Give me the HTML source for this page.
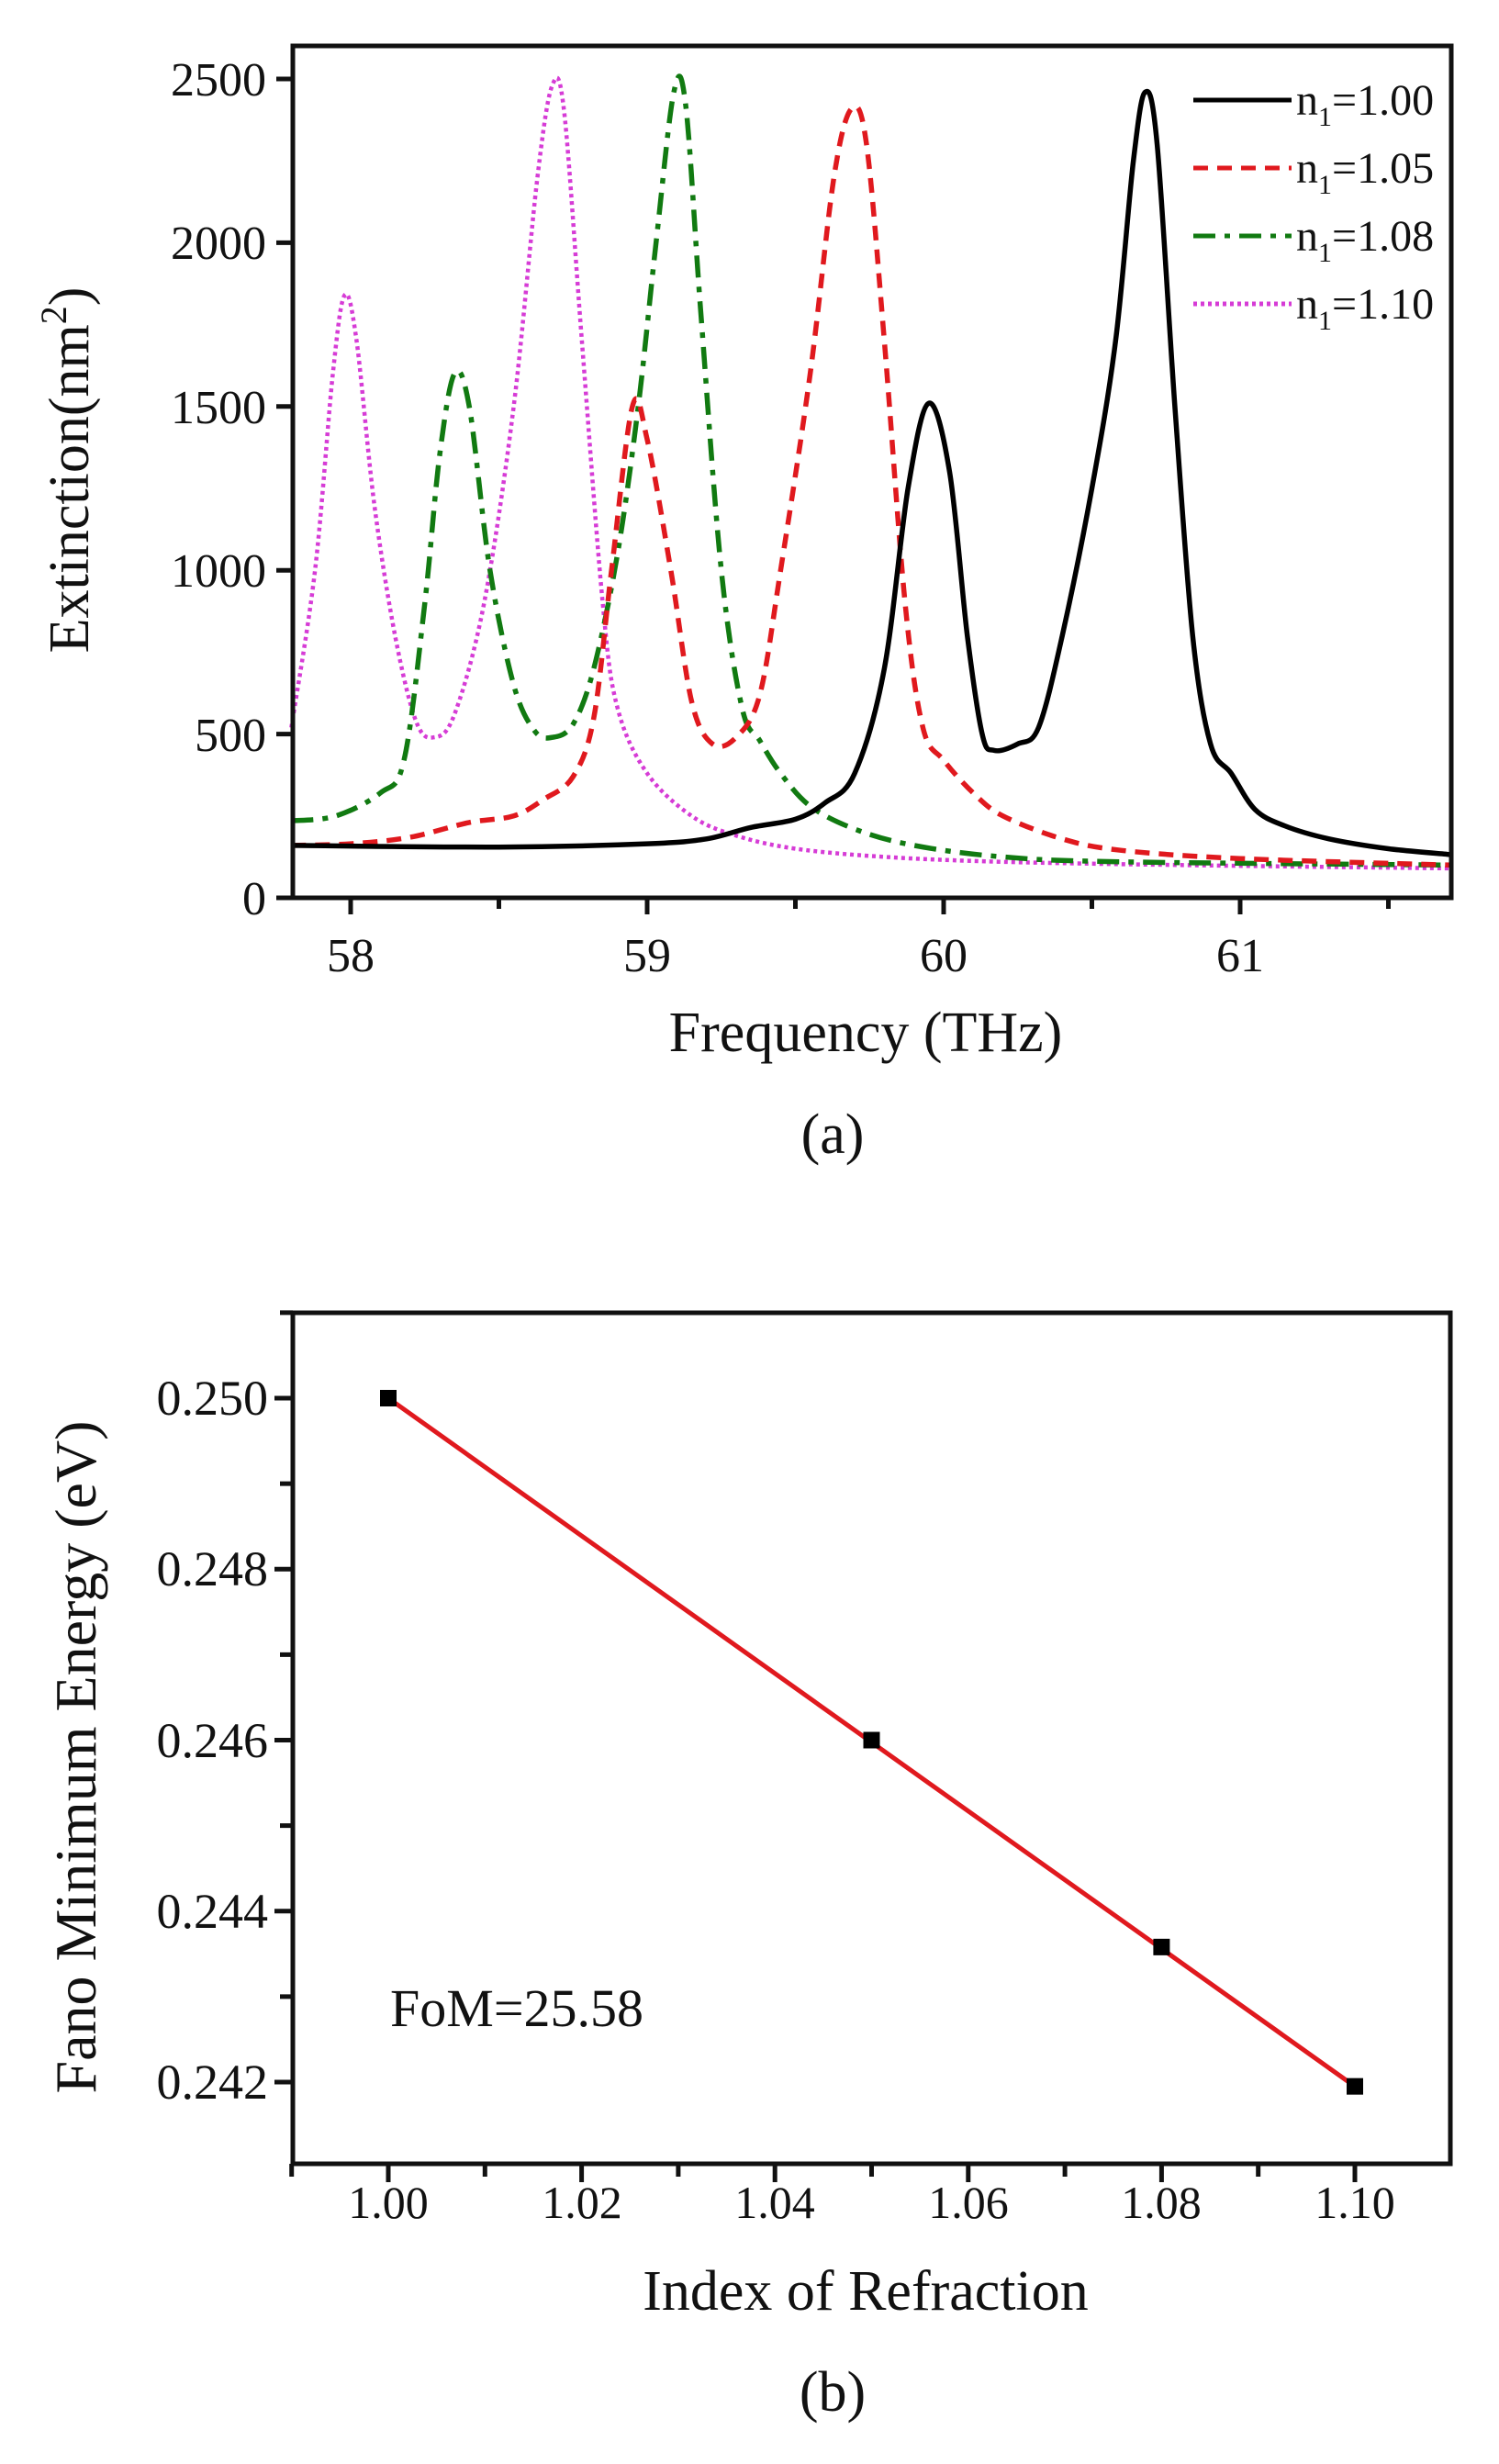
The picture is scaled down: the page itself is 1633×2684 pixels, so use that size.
<!DOCTYPE html>
<html><head><meta charset="utf-8"><style>
html,body{margin:0;padding:0;background:#fff;}
svg{display:block;}
text{font-family:"Liberation Serif",serif;fill:#111;}
</style></head><body>
<svg id="s" width="1633" height="2684" viewBox="0 0 1633 2684" xmlns="http://www.w3.org/2000/svg">
<rect width="1633" height="2684" fill="#fff"/>
<g id="a"></g>
<rect x="319" y="50" width="1262" height="928" fill="none" stroke="#111" stroke-width="5"/>
<g font-size="52" text-anchor="end">
<text x="290" y="996">0</text>
<text x="290" y="818">500</text>
<text x="290" y="639">1000</text>
<text x="290" y="461">1500</text>
<text x="290" y="282">2000</text>
<text x="290" y="104">2500</text>
</g>
<g font-size="52" text-anchor="middle">
<text x="382" y="1058">58</text>
<text x="705" y="1058">59</text>
<text x="1028" y="1058">60</text>
<text x="1351" y="1058">61</text>
</g>
<text x="943" y="1145" font-size="62" text-anchor="middle">Frequency (THz)</text>
<text x="907" y="1256" font-size="62" text-anchor="middle">(a)</text>
<text transform="translate(96,512) rotate(-90)" font-size="62" text-anchor="middle">Extinction(nm<tspan dy="-24" font-size="40">2</tspan><tspan dy="24">)</tspan></text>
<g stroke-width="5" fill="none">
<line x1="1300" y1="109" x2="1407" y2="109" stroke="#000"/>
<line x1="1300" y1="183" x2="1407" y2="183" stroke="#e0191e" stroke-dasharray="16,10"/>
<line x1="1300" y1="257" x2="1407" y2="257" stroke="#117a11" stroke-dasharray="24,10,6,10"/>
<line x1="1300" y1="331" x2="1407" y2="331" stroke="#d63cd6" stroke-dasharray="4,4"/>
</g>
<g font-size="48">
<text x="1412" y="125">n<tspan dy="12" font-size="30">1</tspan><tspan dy="-12">=1.00</tspan></text>
<text x="1412" y="199">n<tspan dy="12" font-size="30">1</tspan><tspan dy="-12">=1.05</tspan></text>
<text x="1412" y="273">n<tspan dy="12" font-size="30">1</tspan><tspan dy="-12">=1.08</tspan></text>
<text x="1412" y="347">n<tspan dy="12" font-size="30">1</tspan><tspan dy="-12">=1.10</tspan></text>
</g>
<g id="b"></g>
<rect x="319" y="1430" width="1261" height="927" fill="none" stroke="#111" stroke-width="5"/>
<g font-size="54" text-anchor="end">
<text x="292" y="1541">0.250</text>
<text x="292" y="1727">0.248</text>
<text x="292" y="1914">0.246</text>
<text x="292" y="2100">0.244</text>
<text x="292" y="2286">0.242</text>
</g>
<g font-size="50" text-anchor="middle">
<text x="423" y="2416">1.00</text>
<text x="634" y="2416">1.02</text>
<text x="844" y="2416">1.04</text>
<text x="1055" y="2416">1.06</text>
<text x="1265" y="2416">1.08</text>
<text x="1476" y="2416">1.10</text>
</g>
<text x="943" y="2516" font-size="62" text-anchor="middle">Index of Refraction</text>
<text x="907" y="2626" font-size="62" text-anchor="middle">(b)</text>
<text transform="translate(104,1914) rotate(-90)" font-size="64" text-anchor="middle">Fano Minimum Energy (eV)</text>
<text x="425" y="2207" font-size="58">FoM=25.58</text>
</svg>
<script>
var NS="http://www.w3.org/2000/svg";
function el(p,t,a){var e=document.createElementNS(NS,t);for(var k in a)e.setAttribute(k,a[k]);p.appendChild(e);return e;}
var ga=document.getElementById('a'),gb=document.getElementById('b');
function X(f){return 382+(f-58)*323;}
function Y(v){return 978-v*0.3568;}
for(var f=58;f<=61.5;f+=0.5){el(ga,'line',{x1:X(f),x2:X(f),y1:978,y2:f%1==0?996:990,stroke:'#111','stroke-width':5});}
for(var v=0;v<=2500;v+=500){el(ga,'line',{x1:319,x2:301,y1:Y(v),y2:Y(v),stroke:'#111','stroke-width':5});}
function path(pts){
 var s='M'+X(pts[0][0]).toFixed(1)+','+Y(pts[0][1]).toFixed(1);
 for(var i=0;i<pts.length-1;i++){
  var p0=pts[i-1]||pts[i],p1=pts[i],p2=pts[i+1],p3=pts[i+2]||pts[i+1];
  var a=[X(p0[0]),Y(p0[1])],b=[X(p1[0]),Y(p1[1])],c=[X(p2[0]),Y(p2[1])],d=[X(p3[0]),Y(p3[1])];
  var c1=[b[0]+(c[0]-a[0])/6,b[1]+(c[1]-a[1])/6],c2=[c[0]-(d[0]-b[0])/6,c[1]-(d[1]-b[1])/6];
  s+=' C'+c1[0].toFixed(1)+','+c1[1].toFixed(1)+' '+c2[0].toFixed(1)+','+c2[1].toFixed(1)+' '+c[0].toFixed(1)+','+c[1].toFixed(1);
 }
 return s;
}
var black=[[57.8,160],[58.5,155],[59.0,165],[59.2,180],[59.35,215],[59.5,240],[59.6,290],[59.7,380],[59.8,700],[59.88,1250],[59.95,1510],[60.02,1300],[60.08,800],[60.13,500],[60.17,450],[60.25,470],[60.32,520],[60.4,800],[60.5,1250],[60.58,1700],[60.64,2250],[60.68,2460],[60.72,2300],[60.78,1500],[60.84,800],[60.9,470],[60.97,380],[61.05,270],[61.15,220],[61.3,180],[61.5,150],[61.71,132]];
var red=[[57.8,160],[58.0,165],[58.2,185],[58.4,230],[58.55,250],[58.65,300],[58.75,370],[58.82,550],[58.88,1000],[58.95,1500],[59.0,1400],[59.08,1000],[59.15,600],[59.22,470],[59.3,490],[59.38,620],[59.45,1000],[59.55,1600],[59.63,2200],[59.69,2410],[59.74,2300],[59.8,1700],[59.87,900],[59.93,520],[60.0,420],[60.1,320],[60.2,250],[60.4,180],[60.6,145],[61.0,120],[61.71,100]];
var green=[[57.8,235],[57.95,250],[58.1,320],[58.18,420],[58.25,900],[58.3,1350],[58.35,1600],[58.4,1500],[58.47,1000],[58.55,650],[58.62,510],[58.68,490],[58.75,530],[58.82,700],[58.9,1050],[58.97,1500],[59.03,2000],[59.09,2460],[59.13,2420],[59.18,1800],[59.25,1000],[59.32,580],[59.38,480],[59.45,380],[59.55,280],[59.7,210],[59.9,160],[60.2,125],[60.6,110],[61.71,100]];
var mag=[[57.8,520],[57.88,1000],[57.94,1600],[57.98,1840],[58.02,1700],[58.08,1200],[58.15,800],[58.22,540],[58.28,490],[58.35,560],[58.45,900],[58.55,1500],[58.63,2200],[58.68,2480],[58.72,2400],[58.78,1700],[58.85,900],[58.9,580],[59.0,380],[59.15,250],[59.3,190],[59.5,150],[59.8,125],[60.2,110],[60.8,100],[61.71,90]];
el(ga,'path',{d:path(mag),fill:'none',stroke:'#d63cd6','stroke-width':4.5,'stroke-dasharray':'4,4'});
el(ga,'path',{d:path(green),fill:'none',stroke:'#117a11','stroke-width':5.5,'stroke-dasharray':'24,10,6,10'});
el(ga,'path',{d:path(red),fill:'none',stroke:'#e0191e','stroke-width':5.5,'stroke-dasharray':'16,10'});
el(ga,'path',{d:path(black),fill:'none',stroke:'#000','stroke-width':5.5});
function BX(n){return 423+(n-1)*10530;}
function BY(e){return 1523+(0.25-e)*93125;}
for(var i=0;i<=11;i++){var n=0.99+i*0.01;var lab=(i%2==1);el(gb,'line',{x1:BX(n),x2:BX(n),y1:2357,y2:lab?2377:2371,stroke:'#111','stroke-width':5});}
for(var i=0;i<=9;i++){var e=0.251-i*0.001;var maj=(i%2==1);el(gb,'line',{x1:319,x2:maj?299:305,y1:BY(e),y2:BY(e),stroke:'#111','stroke-width':5});}
el(gb,'line',{x1:BX(1),y1:BY(0.25),x2:BX(1.1),y2:BY(0.24195),stroke:'#e0191e','stroke-width':5});
[[1,0.25],[1.05,0.246],[1.08,0.24358],[1.1,0.24195]].forEach(function(p){el(gb,'rect',{x:BX(p[0])-9,y:BY(p[1])-9,width:18,height:18,fill:'#000'});});
</script>
</body></html>
